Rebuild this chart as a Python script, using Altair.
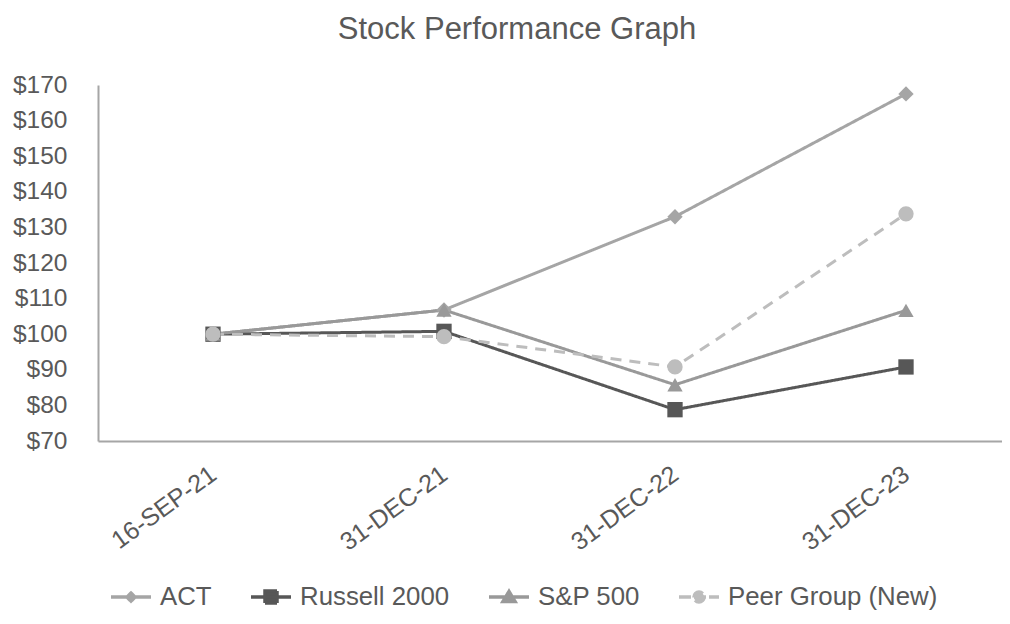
import json
import altair as alt
import pandas as pd

# ---- data ----
dates = ["16-SEP-21", "31-DEC-21", "31-DEC-22", "31-DEC-23"]
series_names = ["ACT", "Russell 2000", "S&P 500", "Peer Group (New)"]
act = [100.0, 106.8, 133.0, 167.5]
russell = [100.0, 100.8, 78.8, 90.8]
sp500 = [100.0, 106.8, 85.8, 106.7]
peer = [100.0, 99.3, 90.8, 133.8]
y_ticks = [70, 80, 90, 100, 110, 120, 130, 140, 150, 160, 170]

# ---- styles ----
colors = ["#a5a5a5", "#575757", "#999999", "#bdbdbd"]
shapes = ["diamond", "square", "triangle-up", "circle"]
dashes = [[1, 0], [1, 0], [1, 0], [11, 8]]
legend_dashes = [[1, 0], [1, 0], [1, 0], [12, 3]]
legend_paths = [
    "M-1,0H1M0,-0.2L0.2,0L0,0.2L-0.2,0Z",
    "M-1,0H1M-0.3,-0.3H0.3V0.3H-0.3Z",
    "M-1,0H1M0,-0.28L0.3,0.22L-0.3,0.22Z",
    "M-1,0H1M0.25,0A0.25,0.25,0,1,1,-0.25,0A0.25,0.25,0,1,1,0.25,0Z",
]

rows = []
for name, vals in zip(series_names, [act, russell, sp500, peer]):
    for i, (d, v) in enumerate(zip(dates, vals)):
        rows.append({"idx": i, "date": d, "series": name, "value": v})
df = pd.DataFrame(rows)

FONT = "Liberation Sans"
TXT = "#595959"
AXIS = "#a6a6a6"

x_enc = alt.X(
    "idx:Q",
    scale=alt.Scale(domain=[-0.4978, 3.4156], nice=False, zero=False),
    axis=alt.Axis(
        title=None, ticks=False, grid=False, values=list(range(len(dates))),
        labelExpr=json.dumps(dates) + "[datum.value]",
        labelAngle=-36, labelFontSize=25, labelColor=TXT, labelFont=FONT,
        domainColor=AXIS, domainWidth=2, labelPadding=30, labelOffset=0,
        labelAlign="right", labelBaseline="middle", labelFlush=False,
        labelOverlap=False,
    ),
)
y_enc = alt.Y(
    "value:Q",
    scale=alt.Scale(domain=[70, 170], nice=False, zero=False),
    axis=alt.Axis(
        title=None, values=y_ticks, format="$d", ticks=False, grid=False,
        labelFontSize=24.5, labelColor=TXT, labelFont=FONT, labelPadding=31,
        domainColor=AXIS, domainWidth=2,
    ),
)

color_scale = alt.Scale(domain=series_names, range=colors)
dash_scale = alt.Scale(domain=series_names, range=dashes)

base = alt.Chart(df)

lines = base.mark_line(strokeWidth=3).encode(
    x=x_enc,
    y=y_enc,
    color=alt.Color("series:N", scale=color_scale, legend=None),
    strokeDash=alt.StrokeDash("series:N", scale=dash_scale, legend=None),
    detail="series:N",
)

points = base.mark_point(filled=True, size=235, opacity=1).encode(
    x=x_enc,
    y=y_enc,
    color=alt.Color("series:N", scale=color_scale, legend=None),
    shape=alt.Shape("series:N", scale=alt.Scale(domain=series_names, range=shapes), legend=None),
)

leg = alt.Legend(
    title=None, orient="none", direction="horizontal",
    legendX=11, legendY=490,
    labelFontSize=25.8, labelColor=TXT, labelFont=FONT, labelLimit=400,
    symbolSize=1600, symbolStrokeWidth=3.5, symbolOpacity=1,
    columnPadding=32, labelOffset=7,
)

legend_layer = base.mark_point(filled=True, opacity=0, strokeWidth=3).encode(
    x=x_enc,
    y=y_enc,
    color=alt.Color("series:N", scale=color_scale, legend=leg),
    stroke=alt.Stroke("series:N", scale=color_scale, legend=leg),
    shape=alt.Shape("series:N", scale=alt.Scale(domain=series_names, range=legend_paths), legend=leg),
    strokeDash=alt.StrokeDash("series:N", scale=alt.Scale(domain=series_names, range=legend_dashes), legend=leg),
)

chart = (
    alt.layer(lines, points, legend_layer)
    .resolve_scale(color="independent", shape="independent", strokeDash="independent", stroke="independent")
    .properties(
        width=904, height=356,
        title=alt.Title("Stock Performance Graph", fontSize=31, color=TXT, font=FONT,
                        fontWeight="normal", anchor="middle", dx=-33, offset=26),
        padding={"left": 90, "top": 77, "right": 0, "bottom": 172},
        autosize="none",
    )
    .configure_view(stroke=None)
)

chart.save("out.html", embed_options={"renderer": "svg", "actions": False})
